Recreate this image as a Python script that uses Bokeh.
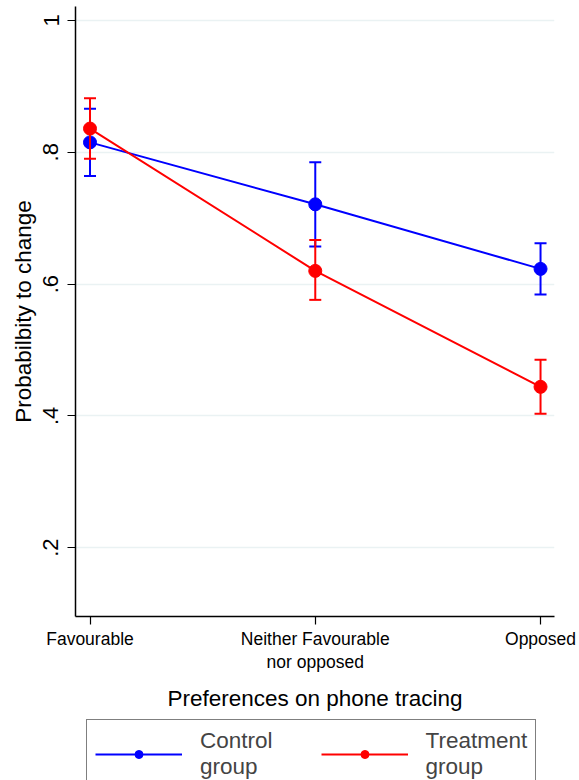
from bokeh.plotting import figure
from bokeh.layouts import column
from bokeh.models import (Range1d, FixedTicker, Whisker, TeeHead, ColumnDataSource,
                          Legend, LegendItem, LinearAxis)
from bokeh.embed import file_html
from bokeh.resources import INLINE

# ---- data ----
x_pos = [1, 2, 3]
cat_line1 = ["Favourable", "Neither Favourable", "Opposed"]
cat_line2 = [" ", "nor opposed", " "]
control_mean = [0.815, 0.721, 0.623]
control_lo = [0.764, 0.657, 0.584]
control_hi = [0.866, 0.785, 0.662]
treat_mean = [0.836, 0.620, 0.444]
treat_lo = [0.790, 0.576, 0.403]
treat_hi = [0.882, 0.667, 0.485]
y_ticks = [0.2, 0.4, 0.6, 0.8, 1.0]
y_tick_labels = [".2", ".4", ".6", ".8", "1"]
series_names = ["Control\ngroup", "Treatment\ngroup"]

FONT = "Liberation Sans"
BLUE, RED = "#0000ff", "#ff0000"

p = figure(width=579, height=713, output_backend="svg", toolbar_location=None,
           x_range=Range1d(0.9356, 3.062), y_range=Range1d(0.0955, 1.0212),
           min_border_left=75, min_border_right=25, min_border_top=6,
           min_border_bottom=96)
p.outline_line_color = None
p.background_fill_color = "white"
p.border_fill_color = "white"

# second x axis carrying the second line of the category labels and the title
x2 = LinearAxis(ticker=FixedTicker(ticks=x_pos),
                major_label_overrides={x: c for x, c in zip(x_pos, cat_line2)})
p.add_layout(x2, "below")

p.xaxis[0].ticker = FixedTicker(ticks=x_pos)
p.xaxis[0].major_label_overrides = {x: c for x, c in zip(x_pos, cat_line1)}
p.yaxis.ticker = FixedTicker(ticks=y_ticks)
p.yaxis.major_label_overrides = {t: l for t, l in zip(y_ticks, y_tick_labels)}
for ax in (p.xaxis[0], p.yaxis[0], x2):
    ax.axis_line_width = 1.5
    ax.axis_line_color = "black"
    ax.major_tick_line_color = "black"
    ax.major_tick_line_width = 1.2
    ax.major_tick_out = 8
    ax.major_tick_in = 0
    ax.minor_tick_line_color = None
    ax.major_label_text_font = FONT
    ax.axis_label_text_font = FONT
    ax.axis_label_text_font_style = "normal"
    ax.major_label_text_color = "black"
    ax.axis_label_text_color = "black"
    ax.major_label_text_font_size = "17.5px"

p.xaxis[0].major_label_standoff = 4

x2.axis_line_color = None
x2.major_tick_line_color = None
x2.major_tick_out = 0
x2.major_label_standoff = 0
x2.axis_label = "Preferences on phone tracing"
x2.axis_label_text_font_size = "22.5px"
x2.axis_label_standoff = 11

p.yaxis.major_label_orientation = "vertical"
p.yaxis.major_label_text_font_size = "22px"
p.yaxis.major_label_standoff = 9
p.yaxis.axis_label = "Probabilbity to change"
p.yaxis.axis_label_text_font_size = "22.5px"
p.yaxis.axis_label_standoff = 5

p.xgrid.grid_line_color = None
p.ygrid.ticker = FixedTicker(ticks=y_ticks)
p.ygrid.grid_line_color = "#eaf2f3"
p.ygrid.grid_line_width = 1.5

# series
sources = []
def series(mean, lo, hi, color):
    src = ColumnDataSource(dict(x=x_pos, y=mean, lo=lo, hi=hi))
    sources.append((src, color))
    w = Whisker(base="x", upper="hi", lower="lo", source=src,
                line_color=color, line_width=2,
                upper_head=TeeHead(size=12, line_color=color, line_width=2),
                lower_head=TeeHead(size=12, line_color=color, line_width=2))
    w.level = "glyph"
    p.add_layout(w)
    p.line("x", "y", source=src, line_color=color, line_width=2)
    p.scatter("x", "y", source=src, size=13, fill_color=color, line_color=color)

series(control_mean, control_lo, control_hi, BLUE)
series(treat_mean, treat_lo, treat_hi, RED)

# legend strip below the chart (its own small canvas; sample glyphs kept out of view)
lf = figure(width=579, height=67, output_backend="svg", toolbar_location=None,
            x_range=Range1d(10, 11), y_range=Range1d(10, 11),
            x_axis_type=None, y_axis_type=None,
            min_border_left=75, min_border_right=25, min_border_top=0, min_border_bottom=0)
lf.outline_line_color = None
lf.xgrid.grid_line_color = None
lf.ygrid.grid_line_color = None
items = []
for (src, color), name in zip(sources, series_names):
    ln = lf.line("x", "y", source=src, line_color=color, line_width=2)
    sc = lf.scatter("x", "y", source=src, size=13, fill_color=color, line_color=color)
    items.append(LegendItem(label=name, renderers=[ln, sc]))

legend = Legend(items=items, orientation="horizontal", location=(11, -9),
                label_text_font=FONT, label_text_font_size="22.5px",
                glyph_width=87, glyph_height=20, label_standoff=18, spacing=48,
                padding=8, margin=0, border_line_color="black", border_line_width=1.2,
                background_fill_alpha=1.0)
lf.add_layout(legend, "center")

layout = column(p, lf, spacing=0)
open("out.html", "w").write(file_html(layout, INLINE))
